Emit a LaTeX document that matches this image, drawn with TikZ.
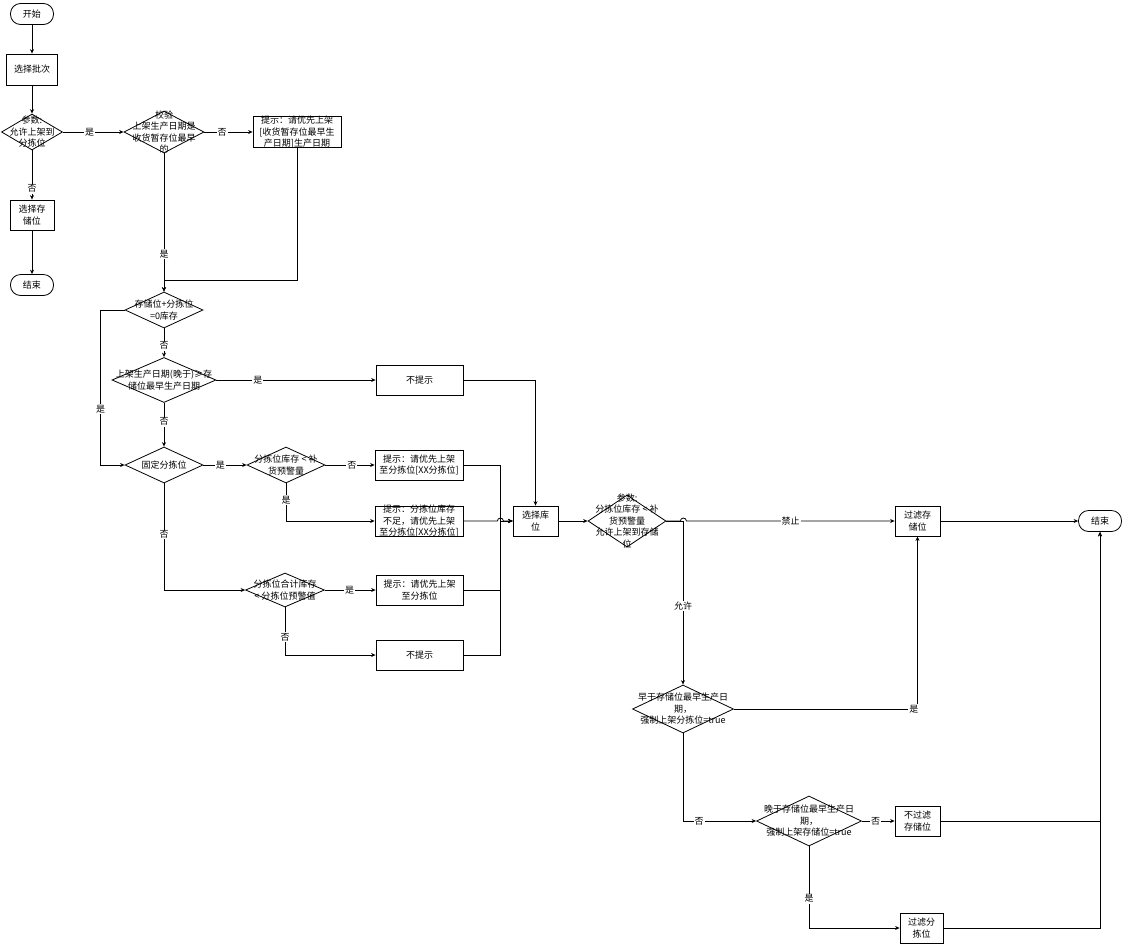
\documentclass[tikz,border=0pt]{standalone}
\usepackage{fontspec}
\setmainfont{Noto Sans CJK SC}
\usetikzlibrary{shapes.geometric}
\usetikzlibrary{arrows.meta}

\begin{document}
\begin{tikzpicture}[x=1pt,y=-1pt,line width=0.8pt,
        every node/.style={font=\fontsize{9}{11.5}\selectfont},
        box/.style={draw,inner sep=0pt,align=center,minimum height=30pt},
        term/.style={draw,rounded corners=10pt,minimum width=43pt,minimum height=21pt,inner sep=0pt},
        dia/.style={draw,diamond,inner sep=0pt},
        txt/.style={align=center,inner sep=0pt},
        lbl/.style={fill=white,inner sep=1pt},
        arr/.style={-{Stealth[length=4.5pt,width=4pt]}}]
        \useasboundingbox (0,0) rectangle (1124,946);
        % left column
        \node[term] (start) at (32,14) {开始};
        \node[box,minimum width=51pt,minimum height=31pt] (batch) at (32,69.5) {选择批次};
        \node[dia,minimum width=61pt,minimum height=36pt,
          label={[txt]center:参数:\\允许上架到\\分拣位}] (p1) at (32,132) {};
        \node[box,minimum width=44pt] (store) at (32,215) {选择存\\储位};
        \node[term] (end1) at (32,285) {结束};
        \node[dia,minimum width=80pt,minimum height=42pt,
          label={[txt]center:校验\\上架生产日期是\\收货暂存位最早\\的}] (chk) at (164,132) {};
        \node[box,minimum width=88pt,minimum height=31pt,
          label={[txt]center:提示：请优先上架\\{}[收货暂存位最早生\\产日期]生产日期}] (tip1) at (297,132) {};
        \coordinate (j1) at (164,280);
        % middle block
        \node[dia,minimum width=78pt,minimum height=36pt,
          label={[txt]center:存储位+分拣位\\=0库存}] (zero) at (164,310) {};
        \node[dia,minimum width=104pt,minimum height=45pt,
          label={[txt]center:上架生产日期(晚于)≥存\\储位最早生产日期}] (late) at (164,380) {};
        \node[box,minimum width=87pt] (nt1) at (419.5,380) {不提示};
        \node[dia,minimum width=78pt,minimum height=36pt,
          label={[txt]center:固定分拣位}] (fix) at (164,465) {};
        \node[dia,minimum width=78pt,minimum height=36pt,
          label={[txt]center:分拣位库存 < 补\\货预警量}] (low) at (286,465) {};
        \node[box,minimum width=88pt] (tipA) at (419,465) {提示：请优先上架\\至分拣位[XX分拣位]};
        \node[box,minimum width=88pt,
          label={[txt]center:提示：分拣位库存\\不足，请优先上架\\至分拣位[XX分拣位]}] (tipB) at (419,521) {};
        \node[dia,minimum width=79pt,minimum height=34pt,
          label={[txt]center:分拣位合计库存\\< 分拣位预警值}] (sum) at (285,590) {};
        \node[box,minimum width=87pt] (tipC) at (419.5,590) {提示：请优先上架\\至分拣位};
        \node[box,minimum width=87pt] (nt2) at (419.5,655) {不提示};
        \coordinate (bus) at (500,521);
        % right block
        \node[box,minimum width=45pt] (pick) at (535.5,521) {选择库\\位};
        \node[dia,minimum width=78pt,minimum height=52pt,
          label={[txt]center:参数:\\分拣位库存 < 补\\货预警量\\允许上架到存储\\位}] (p2) at (627,521) {};
        \node[box,minimum width=45pt] (filt) at (917.5,521) {过滤存\\储位};
        \node[term] (end2) at (1100,521) {结束};
        \node[dia,minimum width=101pt,minimum height=48pt,
          label={[txt]center:早于存储位最早生产日\\期，\\强制上架分拣位=true}] (early) at (683,709) {};
        \node[dia,minimum width=105pt,minimum height=50pt,
          label={[txt]center:晚于存储位最早生产日\\期，\\强制上架存储位=true}] (late2) at (809,821) {};
        \node[box,minimum width=45pt] (nof) at (917.5,821) {不过滤\\存储位};
        \node[box,minimum width=43pt] (fsp) at (921.5,928) {过滤分\\拣位};
        % connectors
        \draw[arr] (start) -- (batch);
        \draw[arr] (batch) -- (p1);
        \draw[arr] (p1.east) -- node[lbl,pos=0.44] {是} (chk.west);
        \draw[arr] (chk.east) -- node[lbl,pos=0.37] {否} (tip1.west);
        \draw[arr] (p1.south) -- node[lbl,pos=0.78] {否} (store.north);
        \draw[arr] (store) -- (end1);
        \draw[arr] (chk.south) -- node[lbl,pos=0.73] {是} (zero.north);
        \draw[arr] (tip1.south) |- (j1) -- (zero.north);
        \draw[arr] (zero.west) -- ++(-24,0) |- node[lbl,pos=0.32] {是} (fix.west);
        \draw[arr] (zero.south) -- node[lbl,pos=0.6] {否} (late.north);
        \draw[arr] (late.east) -- node[lbl,pos=0.26] {是} (nt1.west);
        \draw[arr] (late.south) -- node[lbl,pos=0.43] {否} (fix.north);
        \draw[arr] (fix.east) -- node[lbl,pos=0.39] {是} (low.west);
        \draw[arr] (low.east) -- node[lbl,pos=0.54] {否} (tipA.west);
        \draw[arr] (low.south) |- node[lbl,pos=0.22] {是} (tipB.west);
        \draw[arr] (fix.south) |- node[lbl,pos=0.24] {否} (sum.west);
        \draw[arr] (sum.east) -- node[lbl,pos=0.49] {是} (tipC.west);
        \draw[arr] (sum.south) |- node[lbl,pos=0.31] {否} (nt2.west);
        \draw[arr] (tipA.east) -| (bus) -- (pick.west);
        \draw[arr] (tipC.east) -| (bus) -- (pick.west);
        \draw[arr] (nt2.east) -| (bus) -- (pick.west);
        \draw[arr] (tipB.east) -- ++(34,0) arc[start angle=180,end angle=360,radius=3] -- (pick.west);
        \draw[arr] (nt1.east) -| (pick.north);
        \draw[arr] (pick) -- (p2);
        \draw[arr] (p2.east) -| node[lbl,pos=0.76] {允许} (early.north);
        \draw[arr] (p2.east) -- ++(14,0) arc[start angle=180,end angle=360,radius=3] -- node[lbl,pos=0.5] {禁止} (filt.west);
        \draw[arr] (filt) -- (end2);
        \draw[arr] (early.east) -| node[lbl,pos=0.49] {是} (filt.south);
        \draw[arr] (early.south) |- node[lbl,pos=0.61] {否} (late2.west);
        \draw[arr] (late2.east) -- node[lbl,pos=0.42] {否} (nof.west);
        \draw[arr] (late2.south) |- node[lbl,pos=0.32] {是} (fsp.west);
        \draw[arr] (nof.east) -| (end2.south);
        \draw[arr] (fsp.east) -| (end2.south);
\end{tikzpicture}
\end{document}
